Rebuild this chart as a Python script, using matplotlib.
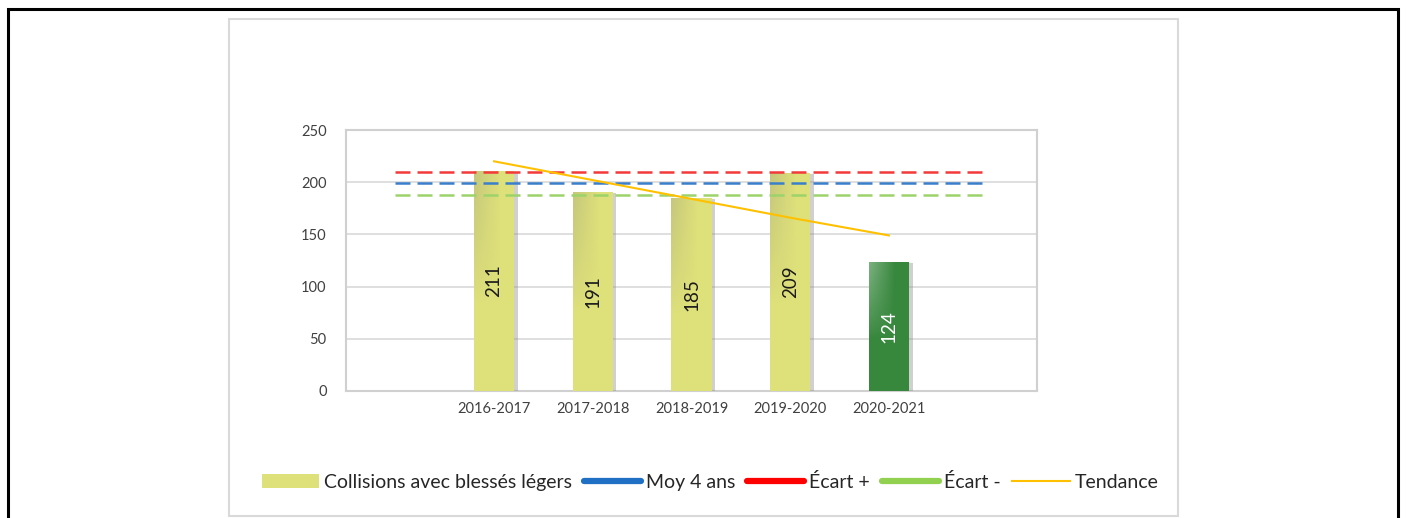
import numpy as np
import matplotlib
matplotlib.use('Agg')
import matplotlib.pyplot as plt
import matplotlib.patheffects as pe
from matplotlib.patches import Rectangle
from matplotlib.lines import Line2D

plt.rcParams['font.family'] = ['Lato', 'DejaVu Sans']

# data
saisons = ['2016-2017', '2017-2018', '2018-2019', '2019-2020', '2020-2021']
collisions = [211, 191, 185, 209, 124]
tendance = [220, 202, 184, 166, 149]
moy_4ans = 199
ecart_plus = 210.2
ecart_moins = 187.8
bar_colors = ['#DEE07A', '#DEE07A', '#DEE07A', '#DEE07A', '#37873D']
label_colors = ['#1a1a1a', '#1a1a1a', '#1a1a1a', '#1a1a1a', 'white']

fig = plt.figure(figsize=(14.07, 5.18), dpi=100)
ax = fig.add_axes([346/1407, 1 - 391/518, (1037-346)/1407, (391-130)/518])

# outer frames
fig.patches.append(Rectangle((8/1407, -0.1), (1398-8)/1407, 1.1 - 9/518,
                             transform=fig.transFigure, fill=False,
                             edgecolor='black', lw=2.2))
fig.patches.append(Rectangle((229/1407, 2/518), (1178-229)/1407, (516-19)/518,
                             transform=fig.transFigure, fill=False,
                             edgecolor='#D9D9D9', lw=1.5))

# 7 slots: empty slot on each side of the 5 seasons
xpos = np.arange(1, len(saisons) + 1)
span = np.arange(0, len(saisons) + 2)

bars = ax.bar(xpos, collisions, width=0.41, color=bar_colors, zorder=3)


def shade(bar, tint, strength):
    # soft gradient in upper-left part of the bar (Excel style fill)
    x0, y0 = bar.get_x(), bar.get_y()
    w, h = bar.get_width(), bar.get_height()
    nx, ny = 80, 80
    gx = np.clip(1 - np.linspace(0, 1, nx) / 0.65, 0, 1)
    gy = np.clip(1 - np.linspace(0, 1, ny) / 0.6, 0, 1) ** 0.8
    img = np.zeros((ny, nx, 4))
    img[..., :3] = tint
    img[..., 3] = strength * np.outer(gy, gx)
    im = ax.imshow(img, extent=[x0, x0 + w, y0, y0 + h], origin='upper',
                   aspect='auto', zorder=3.1, interpolation='bilinear')
    im.set_clip_path(bar)


for b, c in zip(bars, bar_colors):
    b.set_path_effects([pe.SimplePatchShadow(offset=(2.5, -1), shadow_rgbFace='#8a8a8a', alpha=0.4),
                        pe.Normal()])
    if c == '#37873D':
        shade(b, (1, 1, 1), 0.35)
    else:
        shade(b, (0.55, 0.55, 0.5), 0.3)

for x, v, lc in zip(xpos, collisions, label_colors):
    ax.text(x, v / 2, str(v), rotation=90, ha='center', va='center',
            fontsize=13.5, color=lc, zorder=5)

dash = (0, (6, 2.8))
ax.plot(span, [ecart_plus] * len(span), color='#F23A3A', lw=1.8, ls=dash, zorder=4)
ax.plot(span, [moy_4ans] * len(span), color='#3A7FCB', lw=1.8, ls=dash, zorder=4)
ax.plot(span, [ecart_moins] * len(span), color='#9CD36A', lw=1.8, ls=dash, zorder=4)
ax.plot(xpos, tendance, color='#FFC000', lw=1.5, zorder=4)

ax.set_xlim(-0.5, len(saisons) + 1.5)
ax.set_ylim(0, 250)
ax.set_yticks(range(0, 251, 50))
ax.set_xticks(xpos)
ax.set_xticklabels(saisons)
ax.tick_params(length=0, labelsize=10.5, colors='#404040', pad=8)
ax.tick_params(axis='y', pad=14)
ax.grid(axis='y', color='#D9D9D9', lw=1.2, zorder=0)
ax.set_axisbelow(True)
for s in ax.spines.values():
    s.set_color('#D0D0D0')
    s.set_linewidth(1.5)

handles = [Rectangle((0, 0), 1, 1, facecolor='#DEE07A', edgecolor='none'),
           Line2D([], [], color='#1F6FC5', lw=4.5, solid_capstyle='round'),
           Line2D([], [], color='#FF0000', lw=4.5, solid_capstyle='round'),
           Line2D([], [], color='#92D050', lw=4.5, solid_capstyle='round'),
           Line2D([], [], color='#FFC000', lw=1.5)]
names = ['Collisions avec blessés légers', 'Moy 4 ans', 'Écart +', 'Écart -', 'Tendance']
fig.legend(handles, names, loc='center', bbox_to_anchor=(710/1407, 36/518),
           ncol=5, frameon=False, fontsize=14, handlelength=2.95,
           handletextpad=0.25, columnspacing=0.6, labelcolor='#262626')

fig.savefig('out.png', dpi=100)
